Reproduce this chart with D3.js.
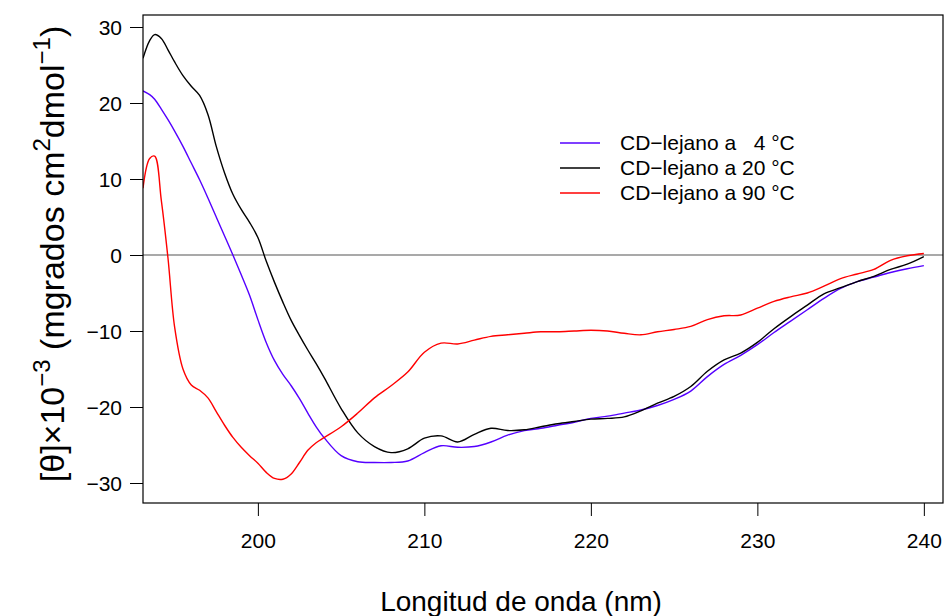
<!DOCTYPE html>
<html>
<head>
<meta charset="utf-8">
<script src="https://cdn.jsdelivr.net/npm/d3@7"></script>
<style>
  body { margin: 0; background: #fff; }
  svg { display: block; font-family: "Liberation Sans", Arial, sans-serif; }
  text { white-space: pre; }
</style>
</head>
<body>
<svg width="944" height="616"></svg>
<script>
// wavelengths (nm) shared by the three spectra
const wavelengths = [193.1, 193.5, 193.8, 194.2, 194.6, 195, 195.5, 196, 196.5, 197, 197.5, 198, 198.5,
  199, 199.5, 200, 200.5, 201, 201.5, 202, 202.5, 203, 203.5, 204, 205, 206, 207, 208, 209, 210,
  211, 212, 213, 214, 215, 216, 217, 218, 219, 220, 221, 222, 223, 224, 225, 226, 227, 228, 229,
  230, 231, 232, 233, 234, 235, 236, 237, 238, 239, 240];

const cd4 = [21.6, 21.1, 20.5, 19.2, 17.8, 16.3, 14.3, 12.1, 9.9, 7.5, 5.0, 2.5, 0.0,
  -2.6, -5.3, -8.5, -11.5, -13.9, -15.7, -17.2, -18.9, -20.8, -22.6, -24.1, -26.4, -27.2, -27.3, -27.3, -27.1, -26.0,
  -25.1, -25.3, -25.2, -24.6, -23.7, -23.1, -22.8, -22.4, -22.0, -21.5, -21.2, -20.8, -20.4, -19.8, -19.0, -17.9, -16.0, -14.4, -13.2,
  -11.8, -10.2, -8.7, -7.2, -5.7, -4.4, -3.5, -2.9, -2.3, -1.8, -1.4];

const cd20 = [25.9, 28.2, 29.0, 28.5, 27.0, 25.4, 23.6, 22.2, 21.0, 18.5, 14.3, 10.8, 8.0,
  6.0, 4.3, 2.3, -0.8, -3.6, -6.2, -8.6, -10.6, -12.5, -14.3, -16.2, -20.2, -23.4, -25.2, -26.0, -25.5, -24.1,
  -23.8, -24.6, -23.6, -22.8, -23.1, -23.0, -22.6, -22.2, -21.9, -21.6, -21.5, -21.3, -20.5, -19.5, -18.6, -17.3, -15.3, -13.8, -12.9,
  -11.5, -9.7, -8.1, -6.6, -5.1, -4.3, -3.5, -2.8, -1.9, -1.2, -0.2];

const cd90 = [8.8, 12.7, 13.0, 7.2, -0.4, -9.5, -15.0, -17.1, -17.8, -18.8, -20.6, -22.4, -24.0,
  -25.3, -26.4, -27.4, -28.6, -29.4, -29.5, -28.8, -27.3, -25.7, -24.7, -24.0, -22.6, -20.8, -18.8, -17.2, -15.4, -12.8,
  -11.6, -11.7, -11.2, -10.7, -10.5, -10.3, -10.1, -10.1, -10.0, -9.9, -10.0, -10.3, -10.5, -10.1, -9.8, -9.4, -8.5, -8.0, -7.9,
  -7.0, -6.1, -5.5, -5.0, -4.1, -3.1, -2.5, -1.9, -0.7, -0.1, 0.2];

const seriesNames = ['CD\u2212lejano a   4 \u00B0C', 'CD\u2212lejano a 20 \u00B0C', 'CD\u2212lejano a 90 \u00B0C'];
const seriesValues = [cd4, cd20, cd90];
const seriesColors = ['#5500ff', '#000000', '#ff0000'];

const xTicks = [200, 210, 220, 230, 240];
const yTicks = [30, 20, 10, 0, -10, -20, -30];

const plot = { left: 143, right: 943, top: 15, bottom: 503 };

const svg = d3.select('svg');

const x = d3.scaleLinear()
    .domain([193.1, 241.15])
    .range([plot.left, plot.right]);

const y = d3.scaleLinear()
    .domain([-32.63, 31.58])
    .range([plot.bottom, plot.top]);

svg.append('defs').append('clipPath')
    .attr('id', 'clip')
    .append('rect')
    .attr('x', plot.left)
    .attr('y', plot.top)
    .attr('width', plot.right - plot.left)
    .attr('height', plot.bottom - plot.top);

// zero line
svg.append('line')
    .attr('x1', plot.left)
    .attr('x2', plot.right)
    .attr('y1', y(0))
    .attr('y2', y(0))
    .attr('stroke', '#555')
    .attr('stroke-width', 1.2);

const line = d3.line()
    .x((d, i) => x(wavelengths[i]))
    .y(d => y(d))
    .curve(d3.curveCatmullRom.alpha(0.5));

svg.append('g')
    .attr('clip-path', 'url(#clip)')
    .selectAll('path')
    .data(seriesValues)
    .enter().append('path')
    .attr('fill', 'none')
    .attr('stroke', (d, i) => seriesColors[i])
    .attr('stroke-width', 1.4)
    .attr('d', line);

// axes
const xAxis = svg.append('g')
    .attr('transform', `translate(0, ${plot.bottom})`)
    .call(d3.axisBottom(x).tickValues(xTicks).tickSize(13).tickPadding(17).tickFormat(d3.format('d')));

const yAxis = svg.append('g')
    .attr('transform', `translate(${plot.left}, 0)`)
    .call(d3.axisLeft(y).tickValues(yTicks).tickSize(13).tickPadding(8)
        .tickFormat(d => d < 0 ? '\u2212' + Math.abs(d) : d));

[xAxis, yAxis].forEach(a => {
    a.select('.domain').remove();
    a.selectAll('.tick line').attr('stroke', '#000').attr('stroke-width', 1);
    a.selectAll('.tick text')
        .attr('fill', '#000')
        .attr('font-size', '21px')
        .attr('font-family', '"Liberation Sans", Arial, sans-serif');
});
yAxis.selectAll('.tick text').attr('dy', '0.35em');

// box
svg.append('rect')
    .attr('x', plot.left)
    .attr('y', plot.top)
    .attr('width', plot.right - plot.left)
    .attr('height', plot.bottom - plot.top)
    .attr('fill', 'none')
    .attr('stroke', '#000')
    .attr('stroke-width', 1.2);

// axis titles
svg.append('text')
    .attr('x', 521)
    .attr('y', 611)
    .attr('text-anchor', 'middle')
    .attr('font-size', '28px')
    .text('Longitud de onda (nm)');

const yTitle = svg.append('text')
    .attr('transform', 'translate(64, 254) rotate(-90)')
    .attr('text-anchor', 'middle')
    .attr('font-size', '34px');
yTitle.append('tspan').text('[\u03B8]\u00D710');
yTitle.append('tspan').attr('font-size', '24px').attr('dy', '-14').text('\u22123');
yTitle.append('tspan').attr('dy', '14').text(' (mgrados cm');
yTitle.append('tspan').attr('font-size', '24px').attr('dy', '-14').text('2');
yTitle.append('tspan').attr('dy', '14').text('dmol');
yTitle.append('tspan').attr('font-size', '24px').attr('dy', '-14').text('\u22121');
yTitle.append('tspan').attr('dy', '14').text(')');

// legend
const legend = svg.append('g')
    .attr('transform', 'translate(560, 143)');

seriesNames.forEach((name, i) => {
    legend.append('line')
        .attr('x1', 0)
        .attr('x2', 40)
        .attr('y1', i * 25)
        .attr('y2', i * 25)
        .attr('stroke', seriesColors[i])
        .attr('stroke-width', 1.4);
    legend.append('text')
        .attr('x', 60)
        .attr('y', i * 25)
        .attr('dy', '0.35em')
        .attr('font-size', '21px')
        .text(name);
});
</script>
</body>
</html>
